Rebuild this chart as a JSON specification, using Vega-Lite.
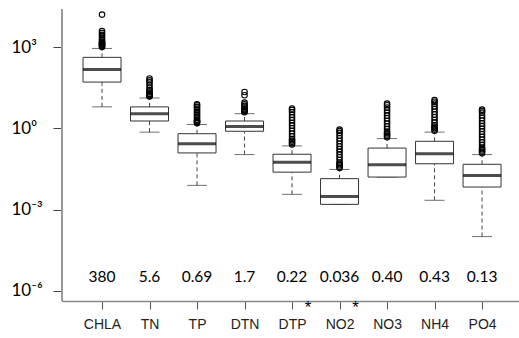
{
  "$schema": "https://vega.github.io/schema/vega-lite/v6.json",
  "autosize": "none",
  "padding": {"left": 62, "top": 9, "right": 0, "bottom": 37},
  "width": 457,
  "height": 292,
  "config": {"view": {"stroke": null}},
  "datasets": {
    "stats": [
      {"v": "CHLA", "lo": 6.2, "q1": 51, "med": 148, "q3": 417, "hi": 891},
      {"v": "TN", "lo": 0.72, "q1": 1.86, "med": 3.47, "q3": 6.17, "hi": 13.2},
      {"v": "TP", "lo": 0.0078, "q1": 0.123, "med": 0.269, "q3": 0.631, "hi": 1.38},
      {"v": "DTN", "lo": 0.107, "q1": 0.776, "med": 1.175, "q3": 1.86, "hi": 3.47},
      {"v": "DTP", "lo": 0.00363, "q1": 0.024, "med": 0.0562, "q3": 0.11, "hi": 0.224},
      {"v": "NO2", "lo": 0.00155, "q1": 0.00155, "med": 0.00302, "q3": 0.0138, "hi": 0.0302},
      {"v": "NO3", "lo": 0.0158, "q1": 0.0158, "med": 0.0447, "q3": 0.186, "hi": 0.417},
      {"v": "NH4", "lo": 0.00219, "q1": 0.049, "med": 0.115, "q3": 0.331, "hi": 0.724},
      {"v": "PO4", "lo": 0.0001, "q1": 0.00676, "med": 0.0182, "q3": 0.0468, "hi": 0.107}
    ],
    "outliers": [
      {"v": "CHLA", "y": 1000}, {"v": "CHLA", "y": 1060}, {"v": "CHLA", "y": 1122}, {"v": "CHLA", "y": 1190}, {"v": "CHLA", "y": 1259}, {"v": "CHLA", "y": 1340}, {"v": "CHLA", "y": 1413}, {"v": "CHLA", "y": 1500}, {"v": "CHLA", "y": 1585}, {"v": "CHLA", "y": 1778}, {"v": "CHLA", "y": 1995}, {"v": "CHLA", "y": 2399}, {"v": "CHLA", "y": 2818}, {"v": "CHLA", "y": 3311}, {"v": "CHLA", "y": 3890}, {"v": "CHLA", "y": 15849},
      {"v": "TN", "y": 14.8}, {"v": "TN", "y": 15.7}, {"v": "TN", "y": 16.6}, {"v": "TN", "y": 17.6}, {"v": "TN", "y": 18.6}, {"v": "TN", "y": 20.9}, {"v": "TN", "y": 23.4}, {"v": "TN", "y": 26.3}, {"v": "TN", "y": 31.6}, {"v": "TN", "y": 39.8}, {"v": "TN", "y": 50.1}, {"v": "TN", "y": 58.9}, {"v": "TN", "y": 69.2},
      {"v": "TP", "y": 1.55}, {"v": "TP", "y": 1.66}, {"v": "TP", "y": 1.78}, {"v": "TP", "y": 1.9}, {"v": "TP", "y": 2.04}, {"v": "TP", "y": 2.34}, {"v": "TP", "y": 2.69}, {"v": "TP", "y": 3.09}, {"v": "TP", "y": 3.55}, {"v": "TP", "y": 4.07}, {"v": "TP", "y": 4.68}, {"v": "TP", "y": 5.37}, {"v": "TP", "y": 6.17}, {"v": "TP", "y": 7.08}, {"v": "TP", "y": 7.76},
      {"v": "DTN", "y": 3.89}, {"v": "DTN", "y": 4.17}, {"v": "DTN", "y": 4.47}, {"v": "DTN", "y": 4.79}, {"v": "DTN", "y": 5.13}, {"v": "DTN", "y": 5.89}, {"v": "DTN", "y": 6.76}, {"v": "DTN", "y": 7.76}, {"v": "DTN", "y": 8.91}, {"v": "DTN", "y": 16.6}, {"v": "DTN", "y": 21.9},
      {"v": "DTP", "y": 0.251}, {"v": "DTP", "y": 0.282}, {"v": "DTP", "y": 0.316}, {"v": "DTP", "y": 0.355}, {"v": "DTP", "y": 0.398}, {"v": "DTP", "y": 0.5}, {"v": "DTP", "y": 0.631}, {"v": "DTP", "y": 0.794}, {"v": "DTP", "y": 1}, {"v": "DTP", "y": 1.26}, {"v": "DTP", "y": 1.58}, {"v": "DTP", "y": 2}, {"v": "DTP", "y": 2.51}, {"v": "DTP", "y": 3.16}, {"v": "DTP", "y": 3.98}, {"v": "DTP", "y": 4.79}, {"v": "DTP", "y": 5.37},
      {"v": "NO2", "y": 0.0339}, {"v": "NO2", "y": 0.038}, {"v": "NO2", "y": 0.0427}, {"v": "NO2", "y": 0.048}, {"v": "NO2", "y": 0.0537}, {"v": "NO2", "y": 0.0676}, {"v": "NO2", "y": 0.0851}, {"v": "NO2", "y": 0.107}, {"v": "NO2", "y": 0.135}, {"v": "NO2", "y": 0.17}, {"v": "NO2", "y": 0.214}, {"v": "NO2", "y": 0.269}, {"v": "NO2", "y": 0.339}, {"v": "NO2", "y": 0.427}, {"v": "NO2", "y": 0.537}, {"v": "NO2", "y": 0.676}, {"v": "NO2", "y": 0.794}, {"v": "NO2", "y": 0.891},
      {"v": "NO3", "y": 0.468}, {"v": "NO3", "y": 0.525}, {"v": "NO3", "y": 0.589}, {"v": "NO3", "y": 0.66}, {"v": "NO3", "y": 0.741}, {"v": "NO3", "y": 0.933}, {"v": "NO3", "y": 1.17}, {"v": "NO3", "y": 1.48}, {"v": "NO3", "y": 1.86}, {"v": "NO3", "y": 2.34}, {"v": "NO3", "y": 2.95}, {"v": "NO3", "y": 3.72}, {"v": "NO3", "y": 4.68}, {"v": "NO3", "y": 5.89}, {"v": "NO3", "y": 7.08}, {"v": "NO3", "y": 8.13},
      {"v": "NH4", "y": 0.813}, {"v": "NH4", "y": 0.91}, {"v": "NH4", "y": 1.02}, {"v": "NH4", "y": 1.15}, {"v": "NH4", "y": 1.29}, {"v": "NH4", "y": 1.62}, {"v": "NH4", "y": 2.04}, {"v": "NH4", "y": 2.57}, {"v": "NH4", "y": 3.24}, {"v": "NH4", "y": 4.07}, {"v": "NH4", "y": 5.13}, {"v": "NH4", "y": 6.46}, {"v": "NH4", "y": 8.13}, {"v": "NH4", "y": 9.55}, {"v": "NH4", "y": 11},
      {"v": "PO4", "y": 0.12}, {"v": "PO4", "y": 0.135}, {"v": "PO4", "y": 0.151}, {"v": "PO4", "y": 0.17}, {"v": "PO4", "y": 0.191}, {"v": "PO4", "y": 0.24}, {"v": "PO4", "y": 0.302}, {"v": "PO4", "y": 0.38}, {"v": "PO4", "y": 0.479}, {"v": "PO4", "y": 0.603}, {"v": "PO4", "y": 0.759}, {"v": "PO4", "y": 0.955}, {"v": "PO4", "y": 1.2}, {"v": "PO4", "y": 1.51}, {"v": "PO4", "y": 1.91}, {"v": "PO4", "y": 2.4}, {"v": "PO4", "y": 3.02}, {"v": "PO4", "y": 3.8}, {"v": "PO4", "y": 4.37}, {"v": "PO4", "y": 4.9}
    ],
    "labels": [
      {"v": "CHLA", "t": "380", "y": 3.3e-6},
      {"v": "TN", "t": "5.6", "y": 3.3e-6},
      {"v": "TP", "t": "0.69", "y": 3.3e-6},
      {"v": "DTN", "t": "1.7", "y": 3.3e-6},
      {"v": "DTP", "t": "0.22", "y": 3.3e-6},
      {"v": "NO2", "t": "0.036", "y": 3.3e-6},
      {"v": "NO3", "t": "0.40", "y": 3.3e-6},
      {"v": "NH4", "t": "0.43", "y": 3.3e-6},
      {"v": "PO4", "t": "0.13", "y": 3.3e-6}
    ],
    "stars": [
      {"v": "DTP", "t": "*", "y": 2.3e-7},
      {"v": "NO2", "t": "*", "y": 2.3e-7}
    ]
  },
  "encoding": {
    "x": {
      "field": "v", "type": "nominal",
      "scale": {"type": "point", "domain": ["CHLA", "TN", "TP", "DTN", "DTP", "NO2", "NO3", "NH4", "PO4"], "padding": 0.81, "align": 0.52},
      "axis": {"title": null, "labelAngle": 0, "labelFont": "Liberation Sans", "labelFontSize": 14, "labelColor": "#222", "tickColor": "#555", "domainColor": "#888", "domainWidth": 1.5, "tickSize": 8, "labelPadding": 8}
    }
  },
  "layer": [
    {
      "data": {"name": "stats"},
      "mark": {"type": "rule", "color": "#444", "strokeWidth": 1, "strokeDash": [4, 3]},
      "encoding": {
        "y": {"field": "q3", "type": "quantitative", "scale": {"type": "log", "domain": [4.17e-7, 25527], "nice": false},
          "axis": {"title": null, "grid": false, "values": [1e-6, 0.001, 1, 1000], "labelExpr": "datum.value > 100 ? '10³' : datum.value > 0.1 ? '10⁰' : datum.value > 0.0001 ? '10⁻³' : '10⁻⁶'", "labelAlign": "left", "labelBaseline": "middle", "labelPadding": 42, "tickSize": 9, "tickColor": "#444", "domainColor": "#444", "labelFont": "Lato", "labelFontSize": 17, "labelColor": "#000"}},
        "y2": {"field": "hi"}
      }
    },
    {
      "data": {"name": "stats"},
      "mark": {"type": "rule", "color": "#444", "strokeWidth": 1, "strokeDash": [4, 3]},
      "encoding": {"y": {"field": "lo", "type": "quantitative"}, "y2": {"field": "q1"}}
    },
    {
      "data": {"name": "stats"},
      "mark": {"type": "tick", "color": "#333", "size": 20, "thickness": 1},
      "encoding": {"y": {"field": "hi", "type": "quantitative"}}
    },
    {
      "data": {"name": "stats"},
      "mark": {"type": "tick", "color": "#333", "size": 20, "thickness": 1},
      "encoding": {"y": {"field": "lo", "type": "quantitative"}}
    },
    {
      "data": {"name": "outliers"},
      "mark": {"type": "point", "shape": "circle", "filled": false, "stroke": "#000", "strokeWidth": 1.1, "size": 30, "opacity": 1},
      "encoding": {"y": {"field": "y", "type": "quantitative"}}
    },
    {
      "data": {"name": "stats"},
      "mark": {"type": "bar", "fill": "#fff", "stroke": "#333", "strokeWidth": 1, "size": 38},
      "encoding": {"y": {"field": "q1", "type": "quantitative"}, "y2": {"field": "q3"}}
    },
    {
      "data": {"name": "stats"},
      "mark": {"type": "tick", "color": "#000", "size": 38, "thickness": 3},
      "encoding": {"y": {"field": "med", "type": "quantitative"}}
    },
    {
      "data": {"name": "labels"},
      "mark": {"type": "text", "font": "Lato", "fontSize": 15.5, "color": "#000", "baseline": "middle"},
      "encoding": {"y": {"field": "y", "type": "quantitative"}, "text": {"field": "t"}}
    },
    {
      "data": {"name": "stars"},
      "mark": {"type": "text", "font": "Liberation Sans", "fontSize": 17, "color": "#000", "baseline": "middle", "dx": 16},
      "encoding": {"y": {"field": "y", "type": "quantitative"}, "text": {"field": "t"}}
    },
    {
      "data": {"values": [{}]},
      "mark": {"type": "rule", "color": "#999", "strokeWidth": 2},
      "encoding": {"y": {"datum": 25527}}
    }
  ]
}
